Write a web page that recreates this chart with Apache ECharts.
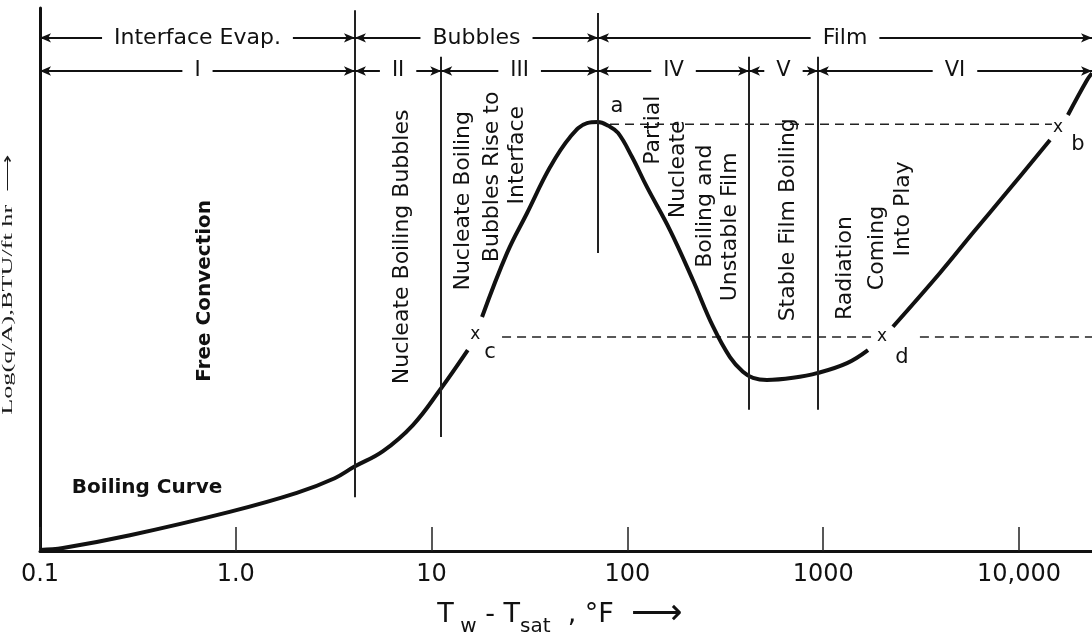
<!DOCTYPE html>
<html><head><meta charset="utf-8">
<script src="https://cdn.jsdelivr.net/npm/echarts@6/dist/echarts.min.js"></script>
<style>html,body{margin:0;padding:0;background:#fff}#c{width:1092px;height:637px}</style>
</head><body><div id="c"></div>
<script>
// x: Tw - Tsat (°F, log scale); y: relative Log(q/A), 0–100 of the axis height
const xTickLabels = ['0.1', '1.0', '10', '100', '1000', '10,000'];
const xMin = 0.1, xMax = 23600;

// boiling curve, broken where the x markers sit
const curveSeg1 = [[0.1,0.2],[0.131,0.55],[0.288,2.9],[0.93,7.2],[2.05,10.7],[3.2,13.4],[4.02,15.5],[5.65,18.4],[8.03,23.2],[11.0,29.6],[15.3,37.0]];
const curveSeg2 = [[18.1,43.1],[24.3,54.9],[30.7,62.2],[40.3,70.7],[50.9,76.2],[62.2,78.8],[70.8,79.0],[80.0,78.3],[89.6,77.0],[105.5,72.6],[126,67.0],[165,59.1],[216,49.9],[274,41.3],[334,35.7],[389,33.0],[438,31.9],[516,31.5],[701,31.9],[940,32.8],[1324,34.6],[1694,37.0]];
const curveSeg3 = [[2271,41.3],[3947,51.2],[5821,58.6],[8687,66.1],[14400,75.7]];
const curveSeg4 = [[17780,80.3],[22230,86.7],[23600,88.0]];

// dashed reference levels
const dashUpper = [[81.5,78.6],[14730,78.6]];
const dashLower1 = [[22.9,39.4],[1841,39.4]];
const dashLower2 = [[3119,39.4],[23600,39.4]];

// state points
const markX = [[16.7,39.8],[1995,39.4],[15820,77.9]];
const pointNames = ['a', 'b', 'c', 'd'];
const pointPos = [[88.5,81.8],[20000,74.8],[19.9,36.5],[2525,35.7]];

// regime boundaries
const regionBounds = [4.06, 11.2, 70.8, 418, 940];
const boundaryTop = [99.6, 91.0, 99.1, 91.0, 91.0];
const boundaryBottom = [9.9, 21.0, 54.9, 26.0, 26.0];

// dimension rows
const row1Edges = [0.1, 4.06, 70.8, 23600];
const row1Labels = ['Interface Evap.', 'Bubbles', 'Film'];
const row1Y = 94.5;
const row2Edges = [0.1, 4.06, 11.2, 70.8, 418, 940, 23600];
const row2Labels = ['I', 'II', 'III', 'IV', 'V', 'VI'];
const row2Y = 88.4;

// regime descriptions (vertical text)
const noteTexts = ['Free Convection', 'Nucleate Boiling Bubbles', 'Nucleate Boiling', 'Bubbles Rise to', 'Interface', 'Partial', 'Nucleate', 'Boiling and', 'Unstable Film', 'Stable Film Boiling', 'Radiation', 'Coming', 'Into Play'];
const notePos = [[0.697,47.9],[7.06,56.0],[14.5,64.5],[20.3,68.9],[27.3,72.9],[135,77.5],[181,70.3],[249,63.5],[334,59.7],[661,61.0],[1291,52.1],[1884,55.8],[2556,63.0]];
const curveName = 'Boiling Curve';
const curveNamePos = [0.352, 11.6];

const yTitle = 'Log(q/A),BTU/ft hr  \u27F6';

const FONT = 'DejaVu Sans';
const INK = '#111';

function dimLines(edges, y) {
  const out = [];
  for (let i = 0; i < edges.length - 1; i++) out.push([{coord: [edges[i], y]}, {coord: [edges[i + 1], y]}]);
  return out;
}
function dimLabels(edges, labels, y) {
  return labels.map((t, i) => ({name: t, value: [Math.sqrt(edges[i] * edges[i + 1]), y]}));
}
function curve(data) {
  return {type: 'line', data, smooth: 0.4, symbol: 'none', silent: true, z: 4,
    lineStyle: {color: INK, width: 4}};
}
function dashed(data) {
  return {type: 'line', data, symbol: 'none', silent: true, z: 2,
    lineStyle: {color: '#222', width: 1.4, type: [9, 6]}};
}
const textSeries = (data, label, z) => ({type: 'scatter', data, symbolSize: 1, silent: true, z: z || 6,
  itemStyle: {color: 'rgba(0,0,0,0)', opacity: 1},
  label: Object.assign({show: true, position: 'inside', formatter: p => p.name, color: INK, opacity: 1,
    textBorderWidth: 0, fontFamily: FONT}, label)});

const chart = echarts.init(document.getElementById('c'), null, {renderer: 'canvas'});
const boundaryLines = regionBounds.map((x, i) => [{coord: [x, boundaryBottom[i]]}, {coord: [x, boundaryTop[i]]}]);

const dash1 = dashed(dashUpper);
dash1.markLine = {silent: true, symbol: ['none', 'none'], animation: false, label: {show: false},
  lineStyle: {color: '#222', width: 2, type: 'solid'}, data: boundaryLines};
const dash2 = dashed(dashLower1);
dash2.markLine = {silent: true, symbol: ['arrow', 'arrow'], symbolSize: [7, 11], animation: false, label: {show: false},
  lineStyle: {color: INK, width: 1.8, type: 'solid'}, itemStyle: {color: INK},
  data: dimLines(row1Edges, row1Y).concat(dimLines(row2Edges, row2Y))};

chart.setOption({
  animation: false,
  backgroundColor: '#fff',
  grid: {left: 40, right: 0, top: 8, bottom: 86, outerBoundsMode: 'none', containLabel: false},
  xAxis: {
    type: 'log', logBase: 10, min: xMin, max: xMax,
    axisLine: {show: true, lineStyle: {color: INK, width: 3}},
    axisTick: {show: true, inside: true, length: 24, lineStyle: {color: '#222', width: 1.5}},
    minorTick: {show: false}, splitLine: {show: false},
    axisLabel: {fontFamily: FONT, fontSize: 24, color: INK, margin: 12,
      formatter: v => xTickLabels[Math.round(Math.log10(v)) + 1] || ''},
    name: '{t|T}{s| w}{t| - T}{s|sat}{t|  , °F  }{a|\u27F6}',
    nameLocation: 'middle', nameGap: 42,
    nameTextStyle: {fontFamily: FONT, fontSize: 27, color: INK, lineHeight: 44, padding: [0, 12, 0, 0],
      rich: {t: {fontFamily: FONT, fontSize: 27, lineHeight: 44, color: INK},
             s: {fontFamily: FONT, fontSize: 20, lineHeight: 20, verticalAlign: 'bottom', color: INK},
             a: {fontFamily: FONT, fontSize: 36, lineHeight: 44, color: INK}}}
  },
  yAxis: {
    type: 'value', min: 0, max: 100,
    axisLine: {show: true, lineStyle: {color: INK, width: 3}},
    axisTick: {show: false}, axisLabel: {show: false}, splitLine: {show: false}
  },
  graphic: [{type: 'text', x: 8, y: 284, rotation: Math.PI / 2, scaleX: 1.75, silent: true,
    style: {text: yTitle, font: '15px "Liberation Serif"', fill: '#1a1a1a', align: 'center', verticalAlign: 'middle'}}],
  series: [
    curve(curveSeg1), curve(curveSeg2), curve(curveSeg3), curve(curveSeg4),
    dash1, dash2, dashed(dashLower2),
    textSeries(dimLabels(row1Edges, row1Labels, row1Y), {fontSize: 22, backgroundColor: '#fff', padding: [2, 12]}, 8),
    textSeries(dimLabels(row2Edges, row2Labels, row2Y), {fontSize: 21, backgroundColor: '#fff', padding: [2, 12]}, 8),
    textSeries(noteTexts.map((t, i) => ({name: t, value: notePos[i],
      label: i === 0 ? {fontWeight: 'bold', fontSize: 20} : {}})), {fontSize: 22, rotate: 90}),
    textSeries([{name: curveName, value: curveNamePos}], {fontSize: 20, fontWeight: 'bold'}),
    textSeries(markX.map(p => ({name: 'x', value: p})), {fontSize: 17}),
    textSeries(pointNames.map((t, i) => ({name: t, value: pointPos[i]})), {fontSize: 21})
  ]
});
</script></body></html>
